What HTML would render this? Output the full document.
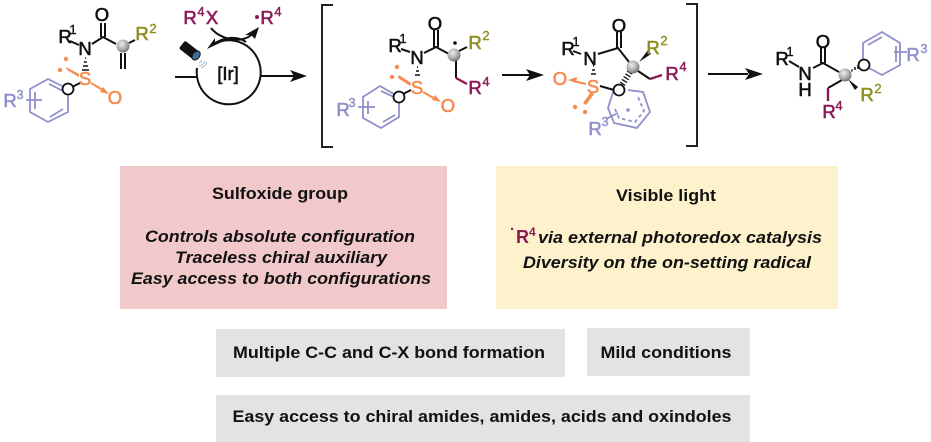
<!DOCTYPE html>
<html><head><meta charset="utf-8"><style>
html,body{margin:0;padding:0;background:#fff}
svg{display:block}
text{font-family:"Liberation Sans",sans-serif}
.t{font-size:18.5px;text-anchor:middle;stroke-width:.6}
.s{font-size:13px;text-anchor:middle;stroke-width:.4}
.k{fill:#111;stroke:#111}.o{fill:#f58b4f;stroke:#f58b4f}.p{fill:#8f90cb;stroke:#8f90cb}.y{fill:#8e8f22;stroke:#8e8f22}.m{fill:#8a1a56;stroke:#8a1a56}
.b{font-size:16.500px;font-weight:bold;fill:#111;text-anchor:middle}
.i{font-size:17px;font-weight:bold;font-style:italic;fill:#111;text-anchor:middle}
.lk{stroke:#111;stroke-width:2;fill:none}.lp{stroke:#8f90cb;stroke-width:1.800;fill:none}.lo{stroke:#f58b4f;stroke-width:2;fill:none}.lm{stroke:#8a1a56;stroke-width:2.400;fill:none}
</style></head><body>
<svg width="931" height="442" viewBox="0 0 931 442" xmlns="http://www.w3.org/2000/svg">
<defs><radialGradient id="g" cx=".4" cy=".35" r=".7"><stop offset="0" stop-color="#eee"/><stop offset=".6" stop-color="#aaa"/><stop offset="1" stop-color="#666"/></radialGradient></defs>
<!-- boxes -->
<rect x="120" y="166" width="327" height="143" fill="#f2c9cb"/>
<rect x="496" y="166" width="342" height="143" fill="#fef2cd"/>
<rect x="216" y="329" width="349" height="48" fill="#e3e3e3"/>
<rect x="587" y="328" width="163" height="48" fill="#e3e3e3"/>
<rect x="216" y="395" width="534" height="47" fill="#e3e3e3"/>
<text class="b" x="280" y="199" textLength="136" lengthAdjust="spacingAndGlyphs">Sulfoxide group</text>
<text class="i" x="280" y="242" textLength="270" lengthAdjust="spacingAndGlyphs">Controls absolute configuration</text>
<text class="i" x="281" y="263" textLength="212" lengthAdjust="spacingAndGlyphs">Traceless chiral auxiliary</text>
<text class="i" x="281" y="284" textLength="300" lengthAdjust="spacingAndGlyphs">Easy access to both configurations</text>
<text class="b" x="666" y="201" textLength="100" lengthAdjust="spacingAndGlyphs">Visible light</text>
<text x="510" y="234" style="font-size:15px;font-weight:bold;fill:#8a1a56">·</text>
<text x="516" y="243" style="font-size:18px;font-weight:bold;fill:#8a1a56">R</text>
<text x="529" y="236" style="font-size:12px;font-weight:bold;fill:#8a1a56">4</text>
<text class="i" x="680" y="243" textLength="284" lengthAdjust="spacingAndGlyphs">via external photoredox catalysis</text>
<text class="i" x="667" y="268" textLength="288" lengthAdjust="spacingAndGlyphs">Diversity on the on-setting radical</text>
<text class="b" x="389" y="358" textLength="312" lengthAdjust="spacingAndGlyphs">Multiple C-C and C-X bond formation</text>
<text class="b" x="666" y="358" textLength="131" lengthAdjust="spacingAndGlyphs">Mild conditions</text>
<text class="b" x="482" y="422" textLength="499" lengthAdjust="spacingAndGlyphs">Easy access to chiral amides, amides, acids and oxindoles</text>

<!-- structure 1 -->
<path class="lk" d="M70 41L79 45M92 44L103 37L116 44M129 43L135 40M101 23V37M105 23V37M121 53V69M125 53V69"/>
<path class="lp" d="M68 89L48 79L30 89V112L48 122L68 112V94M49 84L63 91M35 92V109M50 117L63 109M26 100H42"/>
<path d="M85 58h1M83.800 62h3M83 66h5M82 70h7" stroke="#111" stroke-width="1.500"/>
<path d="M79 74L66 67L67 70L79 77Z" fill="#f58b4f"/>
<path class="lo" d="M91 83L106 92"/><path d="M109 94L100 92L103 87Z" fill="#f58b4f"/>
<circle cx="66" cy="59" r="2.200" fill="#f58b4f"/><circle cx="60" cy="70" r="2.200" fill="#f58b4f"/>
<path class="lk" d="M72 87L80 83"/><circle cx="68" cy="89" r="5.500" fill="#fff" stroke="#111" stroke-width="1.800"/>
<circle cx="123" cy="46" r="6.500" fill="url(#g)"/>
<text class="t k" x="102" y="21">O</text><text class="t k" x="65" y="43">R</text><text class="s k" x="73" y="34">1</text><text class="t k" x="85" y="55">N</text>
<text class="t y" x="142" y="40">R</text><text class="s y" x="153" y="33">2</text>
<text class="t o" x="85" y="85">S</text><text class="t o" x="115" y="104">O</text>
<text class="t p" x="10" y="107">R</text><text class="s p" x="20" y="99">3</text>

<!-- catalytic cycle -->
<path class="lk" d="M175 77H198M261 76H297"/>
<path class="lk" d="M197 68A32 32 0 1 0 212 45" fill="none"/>
<path d="M307 76L290 70L294 76L290 82Z" fill="#111"/>
<path d="M207 49L215 38L215 42L224 41Z" fill="#111"/>
<path class="lk" d="M211 28C222 42 248 44 254 31"/><path class="lk" d="M212 45C225 36 238 36 246 42"/>
<path d="M259 27L255 39L251 35L245 35Z" fill="#111"/>
<g transform="rotate(38 189 50)"><rect x="180" y="45" width="18" height="10" rx="2" fill="#111"/><ellipse cx="198" cy="50" rx="3.500" ry="5" fill="#3d6d99" stroke="#111" stroke-width="1"/></g>
<path d="M199 63a5 5 0 0 0 3-3M199 66a8 8 0 0 0 6-5M201 68a10 10 0 0 0 6-6" stroke="#86a5c0" stroke-width=".8" fill="none"/>
<text class="t k" x="228" y="80">[Ir]</text>
<text class="t m" x="190" y="24">R</text><text class="s m" x="201" y="16">4</text><text class="t m" x="212" y="24">X</text>
<circle cx="257" cy="17" r="2" fill="#8a1a56"/><text class="t m" x="267" y="24">R</text><text class="s m" x="278" y="16">4</text>

<!-- left bracket -->
<path d="M333 5H322V147H333" fill="none" stroke="#222" stroke-width="2"/>
<!-- structure 2 -->
<path class="lk" d="M401 49L410 52M424 53L436 47L449 54M459 51L467 47M434 30V47M438 30V47"/>
<path class="lk" d="M456 60V78"/><path class="lm" d="M456 78L467 84"/>
<path class="lp" d="M399 97L380 86L363 97V118L381 128L399 117V102M381 91L394 97M368 101V114M383 122L395 115M358 107H375"/>
<path d="M417 67h1M416 71h3M415 75h5" stroke="#111" stroke-width="1.500"/>
<path d="M411 83L399 75L398 78L410 86Z" fill="#f58b4f"/>
<path class="lo" d="M423 92L437 100"/><path d="M441 102L432 100L435 95Z" fill="#f58b4f"/>
<circle cx="397" cy="67" r="2.200" fill="#f58b4f"/><circle cx="392" cy="77" r="2.200" fill="#f58b4f"/>
<path class="lk" d="M403 94L411 90"/><circle cx="399" cy="97" r="5.500" fill="#fff" stroke="#111" stroke-width="1.800"/>
<circle cx="454" cy="55" r="6.500" fill="url(#g)"/><circle cx="455" cy="43" r="1.800" fill="#111"/>
<text class="t k" x="435" y="30">O</text><text class="t k" x="395" y="52">R</text><text class="s k" x="403" y="43">1</text><text class="t k" x="417" y="64">N</text>
<text class="t y" x="475" y="49">R</text><text class="s y" x="486" y="40">2</text>
<text class="t m" x="475" y="94">R</text><text class="s m" x="486" y="86">4</text>
<text class="t o" x="417" y="94">S</text><text class="t o" x="448" y="112">O</text>
<text class="t p" x="343" y="116">R</text><text class="s p" x="352" y="107">3</text>

<!-- arrows -->
<path class="lk" d="M502 75H530"/><path d="M544 75L526 69L530 75L526 81Z" fill="#111"/>
<!-- structure 3 -->
<path class="lk" d="M573 51L581 54M598 54L618 48L629 62M617 32V48M621 32V48"/>
<path d="M639 62L648 50L651 54Z" fill="#111"/>
<path class="lk" d="M638 71L650 79"/><path class="lm" d="M650 79L662 75"/>
<path d="M593 66h1M592 70h3M591 74h5" stroke="#111" stroke-width="1.500"/>
<path d="M630 72L622 85" stroke="#111" stroke-width="6" stroke-dasharray="1.300 2" fill="none"/>
<path class="lp" d="M614 89L608 108L614 123L637 128L650 112L643 92L628 90"/>
<path class="lp" stroke-dasharray="3.500 3" d="M615 109L619 118L635 122L644 111L638 97"/>
<circle cx="628" cy="110" r="1.800" fill="#8f90cb"/>
<path class="lp" d="M606 119L618 113"/>
<path class="lo" d="M586 84L573 81"/><path d="M568 80L577 77L576 83Z" fill="#f58b4f"/>
<path d="M591 92L583 103L586 105L594 94Z" fill="#f58b4f"/>
<circle cx="575" cy="107" r="2.200" fill="#f58b4f"/><circle cx="585" cy="112" r="2.200" fill="#f58b4f"/>
<path class="lk" d="M600 86L614 90"/><circle cx="619" cy="90" r="5.500" fill="#fff" stroke="#111" stroke-width="1.800"/>
<circle cx="633" cy="67" r="6.500" fill="url(#g)"/>
<text class="t k" x="619" y="32">O</text><text class="t k" x="568" y="55">R</text><text class="s k" x="576" y="46">1</text><text class="t k" x="590" y="65">N</text>
<text class="t y" x="653" y="54">R</text><text class="s y" x="664" y="45">2</text>
<text class="t m" x="672" y="80">R</text><text class="s m" x="683" y="71">4</text>
<text class="t o" x="593" y="93">S</text><text class="t o" x="560" y="85">O</text>
<text class="t p" x="595" y="135">R</text><text class="s p" x="605" y="126">3</text>

<!-- right bracket -->
<path d="M686 4H697V146H686" fill="none" stroke="#222" stroke-width="2"/>
<path class="lk" d="M708 74H748"/><path d="M763 74L745 68L749 74L745 80Z" fill="#111"/>
<!-- structure 4 -->
<path class="lk" d="M789 61L799 67M813 68L823 63L839 72M821 47V63M825 47V63"/>
<path d="M849 71h1M852 69.500v2M855 67v3M858 65v4" stroke="#111" stroke-width="1.500"/>
<path d="M848 79L858 87L855 90Z" fill="#111"/>
<path class="lk" d="M842 80L828 88"/><path class="lm" d="M828 88V101"/>
<path class="lp" d="M863 60V43L882 32L900 43V65L882 75L869 68M868 45L882 37M896 46V62M894 52H907"/>
<circle cx="864" cy="65" r="5.500" fill="#fff" stroke="#111" stroke-width="1.800"/>
<circle cx="845" cy="75" r="6.500" fill="url(#g)"/>
<text class="t k" x="823" y="48">O</text><text class="t k" x="782" y="65">R</text><text class="s k" x="790" y="56">1</text><text class="t k" x="805" y="80">N</text><text class="t k" x="805" y="96">H</text>
<text class="t y" x="867" y="101">R</text><text class="s y" x="878" y="93">2</text>
<text class="t m" x="829" y="118">R</text><text class="s m" x="839" y="110">4</text>
<text class="t p" x="913" y="61">R</text><text class="s p" x="924" y="53">3</text>
</svg>
</body></html>
